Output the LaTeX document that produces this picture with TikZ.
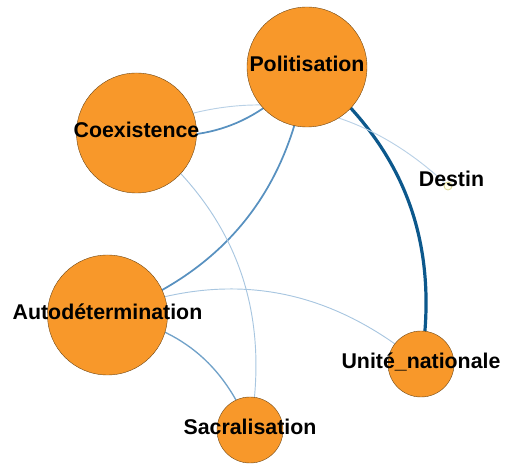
\documentclass[tikz,border=0pt]{standalone}
\usepackage{fontspec}
\setmainfont{Liberation Sans}
\usepackage{xcolor}
\usepackage{tikz}
\usetikzlibrary{positioning,backgrounds}

\definecolor{bubfill}{RGB}{248,152,42}
\definecolor{bubline}{RGB}{110,70,20}
\definecolor{edgedark}{RGB}{12,88,140}
\definecolor{edgemid}{RGB}{88,145,192}
\definecolor{edgelight}{RGB}{168,198,224}

\begin{document}
\begin{tikzpicture}[x=0.75pt,y=0.75pt,
    bub/.style={circle, fill=bubfill, draw=bubline, line width=0.3pt, inner sep=0pt},
    lbl/.style={font=\bfseries\fontsize{16}{19}\selectfont, anchor=base, inner sep=0pt, yshift=-3.75pt},
    lnk/.style={draw=edgemid, line width=1.3pt}]
    \useasboundingbox (0,0) rectangle (507,464);
    \node[bub, minimum size=90pt] (pol) at (307,397) {};
    \node[bub, minimum size=90pt] (coex) at (136.5,331) {};
    \node[bub, minimum size=90pt] (auto) at (107.5,149) {};
    \node[bub, minimum size=49.5pt] (sacr) at (250,34) {};
    \node[bub, minimum size=49.5pt] (uni) at (421,100) {};
    \node[circle, fill=yellow!8, draw=olive!35, line width=0.6pt, minimum size=6pt, inner sep=0pt] (des) at (448,278) {};
    \begin{pgfonlayer}{background}
        \draw[edgedark, line width=2.4pt] (pol.center) to[bend left=30] (uni.center);
        \draw[lnk] (coex.center) to[bend right=30] (pol.center);
        \draw[lnk] (pol.center) to[bend left=31] (auto.center);
        \draw[lnk, line width=1pt, draw=edgemid!85] (auto.center) to[bend left=30] (sacr.center);
        \draw[edgelight, line width=0.7pt] (coex.center) to[bend left=31] (sacr.center);
        \draw[edgelight, line width=0.7pt] (auto.center) to[bend left=31] (uni.center);
        \draw[edgelight!80, line width=0.7pt] (coex.center) to[bend left=34] (des.center);
    \end{pgfonlayer}
    \node[lbl] at (pol) {Politisation};
    \node[lbl] at (coex) {Coexistence};
    \node[lbl] at (auto) {Autodétermination};
    \node[lbl] at (sacr) {Sacralisation};
    \node[lbl] at (uni) {Unité\_nationale};
    \node[lbl, xshift=2.6pt, yshift=3pt] at (des) {Destin};
\end{tikzpicture}
\end{document}
